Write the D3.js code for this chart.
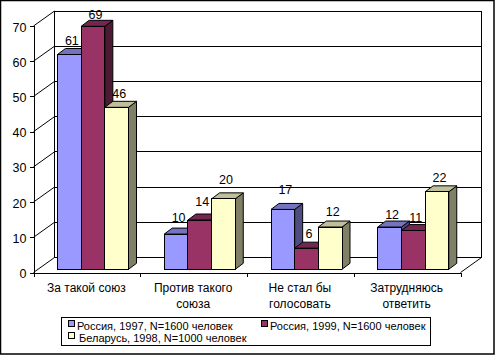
<!DOCTYPE html>
<html lang="en">
	<head>
		<meta charset="UTF-8" />
		<title>chart</title>
		<style>
			html, body { margin: 0; padding: 0; background: #fff; }
			svg { display: block; }
			text { font-family: "Liberation Sans", Arial, sans-serif; fill: #000; }
		</style>
	</head>
	<body>
		<svg width="495" height="355" id="mainsvg"></svg>
		<script src="https://cdn.jsdelivr.net/npm/d3@7"></script>
		<script>
			const categories = [
				["За такой союз"],
				["Против такого", "союза"],
				["Не стал бы", "голосовать"],
				["Затрудняюсь", "ответить"],
			]
			const seriesNames = [
				"Россия, 1997, N=1600 человек",
				"Россия, 1999, N=1600 человек",
				"Беларусь, 1998, N=1000 человек",
			]
			const russia1997 = [61, 10, 17, 12]
			const russia1999 = [69, 14, 6, 11]
			const belarus1998 = [46, 20, 12, 22]
			const yTicks = [0, 10, 20, 30, 40, 50, 60, 70]

			const seriesValues = [russia1997, russia1999, belarus1998]
			const colors = ["#9999ff", "#993366", "#ffffcc"]
			const topColors = ["#7373bf", "#732650", "#bfbf99"]
			const sideColors = ["#4d4d80", "#4d1a33", "#808066"]
			// how far each value label sits above its bar, not constant in the original
			const labelLift = [
				[9.5, 12, 15, 8],
				[7, 14, 10, 8.5],
				[9, 15, 11, 10],
			]

			const svg = d3.select("#mainsvg")

			// front plane of the box, the back wall is the same thing shifted by depth
			const x0 = 33.5
			const x1 = 460.5
			const depthX = 21
			const depthY = -15
			const y = d3.scaleLinear().domain([0, 70]).range([272.5, 26])
			const xCat = d3.scaleBand().domain(d3.range(categories.length)).range([x0, x1])
			const xSeries = d3.scaleBand().domain(d3.range(3)).range([24, 95])

			// outer frame
			svg.append("rect")
				.attr("x", 0.5).attr("y", 0.5).attr("width", 493.5).attr("height", 353.5)
				.attr("fill", "#fff").attr("stroke", "#000").attr("stroke-width", 1.5)

			const grid = svg.append("g").attr("stroke", "#000").attr("fill", "none").attr("shape-rendering", "crispEdges")

			// back wall grid
			grid.selectAll(".back")
				.data(yTicks)
				.join("line")
				.attr("x1", x0 + depthX).attr("x2", x1 + depthX)
				.attr("y1", (d) => y(d) + depthY).attr("y2", (d) => y(d) + depthY)
			grid.append("line")
				.attr("x1", x0 + depthX).attr("x2", x0 + depthX)
				.attr("y1", y(0) + depthY).attr("y2", y(70) + depthY)
			grid.append("line")
				.attr("x1", x1 + depthX).attr("x2", x1 + depthX)
				.attr("y1", y(0) + depthY).attr("y2", y(70) + depthY)

			// side wall and floor edge, these are diagonal
			const diag = svg.append("g").attr("stroke", "#000").attr("fill", "none")
			diag.selectAll("line")
				.data(yTicks)
				.join("line")
				.attr("x1", x0).attr("x2", x0 + depthX)
				.attr("y1", (d) => y(d)).attr("y2", (d) => y(d) + depthY)
			diag.append("line")
				.attr("x1", x1).attr("x2", x1 + depthX)
				.attr("y1", y(0)).attr("y2", y(0) + depthY)

			// axes
			const yAxis = d3.axisLeft(y).tickValues(yTicks).tickSize(4).tickPadding(3).tickFormat(d3.format("d"))
			svg.append("g")
				.attr("transform", `translate(${x0},0)`)
				.call(yAxis)
				.call((g) => g.selectAll("text")
					.attr("font-size", 12.5)
					.attr("dy", "0.4em")
					.style("font-family", '"Liberation Sans", Arial, sans-serif'))
				.call((g) => g.selectAll("line,path").attr("shape-rendering", "crispEdges").attr("stroke", "#000"))

			const xTicks = d3.scaleLinear().domain([0, categories.length]).range([x0, x1])
			const xAxis = d3.axisBottom(xTicks).ticks(categories.length).tickSizeInner(4).tickSizeOuter(0).tickFormat("")
			svg.append("g")
				.attr("transform", `translate(0,${y(0)})`)
				.call(xAxis)
				.call((g) => g.selectAll("line,path").attr("shape-rendering", "crispEdges").attr("stroke", "#000"))

			// category labels
			const catLabels = svg.append("g").attr("text-anchor", "middle").attr("font-size", 12)
			categories.forEach((lines, i) => {
				lines.forEach((line, j) => {
					catLabels.append("text")
						.attr("x", xCat(i) + xCat.bandwidth() / 2 - 0.5)
						.attr("y", 292 + j * 15.7)
						.text(line)
				})
			})

			// 3d bars
			const barDx = 8
			const barDy = -6
			const floorShift = -3.2
			const bars = svg.append("g").attr("stroke", "#000").attr("stroke-width", 1).attr("stroke-linejoin", "round")
			categories.forEach((c, i) => {
				seriesValues.forEach((vals, s) => {
					const left = xCat(i) + xSeries(s)
					const right = left + xSeries.bandwidth()
					const top = y(vals[i]) + floorShift
					const bottom = y(0) + floorShift
					const g = bars.append("g")
					g.append("polygon")
						.attr("fill", sideColors[s])
						.attr("points", [[right, top], [right + barDx, top + barDy], [right + barDx, bottom + barDy], [right, bottom]].join(" "))
					g.append("polygon")
						.attr("fill", topColors[s])
						.attr("points", [[left, top], [left + barDx, top + barDy], [right + barDx, top + barDy], [right, top]].join(" "))
					g.append("rect")
						.attr("x", left).attr("y", top)
						.attr("width", xSeries.bandwidth()).attr("height", bottom - top)
						.attr("fill", colors[s])
						.attr("shape-rendering", "crispEdges")
				})
			})

			// value labels go on top of everything
			const valueLabels = svg.append("g").attr("text-anchor", "middle").attr("font-size", 12.5)
			categories.forEach((c, i) => {
				seriesValues.forEach((vals, s) => {
					valueLabels.append("text")
						.attr("x", xCat(i) + xSeries(s) + xSeries.bandwidth() / 2 + 2.5)
						.attr("y", y(vals[i]) + floorShift - labelLift[s][i])
						.text(vals[i])
				})
			})

			// legend
			const legend = svg.append("g")
			legend.append("rect")
				.attr("x", 61.5).attr("y", 317.5).attr("width", 369).attr("height", 28)
				.attr("fill", "#fff").attr("stroke", "#000").attr("shape-rendering", "crispEdges")
			const legendPos = [[68, 77, 329], [261, 270, 329], [68, 79, 341]]
			seriesNames.forEach((name, s) => {
				const [sx, tx, ty] = legendPos[s]
				legend.append("rect")
					.attr("x", sx + 0.5).attr("y", ty - 8.5).attr("width", 6).attr("height", 6)
					.attr("fill", colors[s]).attr("stroke", "#000").attr("shape-rendering", "crispEdges")
				legend.append("text")
					.attr("x", tx).attr("y", ty + 1)
					.attr("font-size", 11)
					.text(name)
			})
		</script>
	</body>
</html>
